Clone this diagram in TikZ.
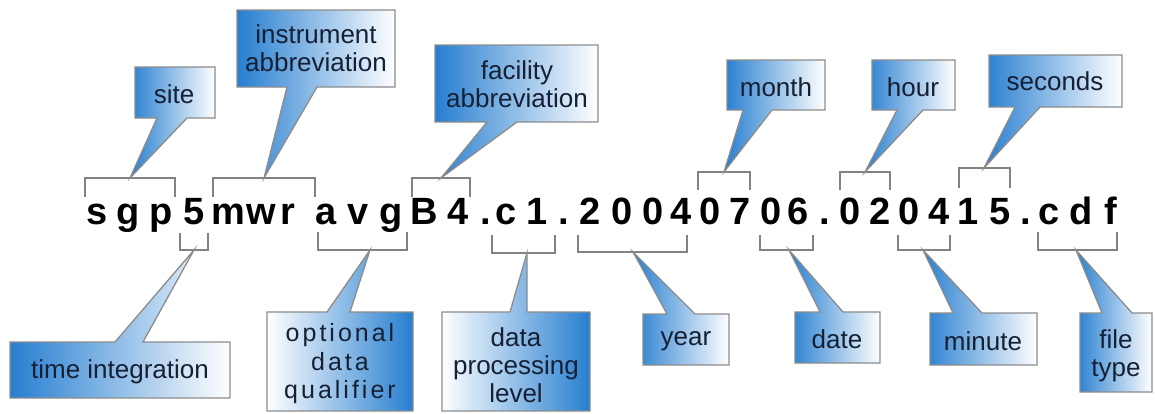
\documentclass[tikz,border=0pt]{standalone}
\usepackage{fontspec}
\newfontfamily\labfont{Liberation Sans}
\newfontfamily\codefont{Liberation Sans}
\definecolor{cblue}{RGB}{38,126,208}
\definecolor{boxgray}{RGB}{140,140,140}
\definecolor{brkgray}{RGB}{130,130,130}
\definecolor{labtext}{RGB}{22,32,52}
\tikzset{
  cbox/.style={draw=boxgray, line width=1.3pt, line join=miter},
  shadeL/.style={cbox, left color=cblue, right color=white},
  shadeR/.style={cbox, left color=white, right color=cblue},
  brk/.style={draw=brkgray, line width=1.6pt},
  lab/.style={font=\labfont\fontsize{26}{28}\selectfont, text=labtext, align=center, inner sep=0pt},
  mainchar/.style={font=\codefont\bfseries\fontsize{38}{38}\selectfont, inner sep=0pt, anchor=base}
}
\begin{document}
\begin{tikzpicture}[x=1pt,y=-1pt]
\useasboundingbox (0,0) rectangle (1155,413);
% main file name
\foreach \ch/\xx [count=\i] in {s/97,g/128,p/161,5/194,m/228,w/261,r/288,a/326,v/358,g/391,B/424,4/458,./486,c/506,1/537,./564,2/590,0/622,0/653,4/681,0/710,7/740,0/771,6/798,./825,0/850,2/880,0/909,4/939,1/968,5/1000,./1026,c/1049,d/1081,f/1111}
  {\node[mainchar] (ch\i) at (\xx,224) {\ch};}
% top brackets
\coordinate (tSite) at (130,178);
\coordinate (tInst) at (264,178);
\coordinate (tFac) at (441,178);
\coordinate (tMon) at (724,172);
\coordinate (tHour) at (865,172);
\coordinate (tSec) at (984,168);
\draw[brk] (85,197) |- (tSite) -| (175,197);
\draw[brk] (213,197) |- (tInst) -| (315,197);
\draw[brk] (412,197) |- (tFac) -| (470,197);
\draw[brk] (698,190) |- (tMon) -| (750,190);
\draw[brk] (840,190) |- (tHour) -| (890,190);
\draw[brk] (959,188) |- (tSec) -| (1010,188);
% bottom brackets
\coordinate (bTime) at (194,250);
\coordinate (bOpt) at (370,250);
\coordinate (bData) at (527,253);
\coordinate (bYear) at (633,252);
\coordinate (bDate) at (789,250);
\coordinate (bMin) at (923,250);
\coordinate (bFile) at (1076,250);
\draw[brk] (180,233) |- (bTime) -| (208,233);
\draw[brk] (318,232) |- (bOpt) -| (407,232);
\draw[brk] (492,235) |- (bData) -| (555,235);
\draw[brk] (578,235) |- (bYear) -| (687,235);
\draw[brk] (760,235) |- (bDate) -| (813,235);
\draw[brk] (898,235) |- (bMin) -| (950,235);
\draw[brk] (1038,232) |- (bFile) -| (1117,232);
% top callouts
\path[shadeL] (135,67) -- (215,67) -- (215,118) -- (187,118) -- (tSite) -- (157,118) -- (135,118) -- cycle;
\path[shadeL] (237,10) -- (395,10) -- (395,87) -- (317,87) -- (tInst) -- (287,87) -- (237,87) -- cycle;
\path[shadeL] (435,45) -- (598,45) -- (598,122) -- (517,122) -- (tFac) -- (487,122) -- (435,122) -- cycle;
\path[shadeL] (727,60) -- (825,60) -- (825,110) -- (772,110) -- (tMon) -- (743,110) -- (727,110) -- cycle;
\path[shadeL] (872,60) -- (955,60) -- (955,110) -- (923,110) -- (tHour) -- (897,110) -- (872,110) -- cycle;
\path[shadeL] (989,55) -- (1122,55) -- (1122,107) -- (1040,107) -- (tSec) -- (1015,107) -- (989,107) -- cycle;
% bottom callouts
\path[shadeL] (10,342) -- (115,342) -- (bTime) -- (143,342) -- (230,342) -- (230,398) -- (10,398) -- cycle;
\path[shadeR] (267,312) -- (327,312) -- (bOpt) -- (350,312) -- (413,312) -- (413,411) -- (267,411) -- cycle;
\path[shadeR] (442,312) -- (510,312) -- (bData) -- (527,312) -- (590,312) -- (590,411) -- (442,411) -- cycle;
\path[shadeL] (643,314) -- (667,314) -- (bYear) -- (695,314) -- (729,314) -- (729,365) -- (643,365) -- cycle;
\path[shadeL] (795,312) -- (820,312) -- (bDate) -- (843,312) -- (880,312) -- (880,363) -- (795,363) -- cycle;
\path[shadeL] (930,313) -- (953,313) -- (bMin) -- (982,313) -- (1037,313) -- (1037,365) -- (930,365) -- cycle;
\path[shadeL] (1080,313) -- (1102,313) -- (bFile) -- (1132,313) -- (1152,313) -- (1152,392) -- (1080,392) -- cycle;
% labels
\node[lab] (lSite) at (174,94) {site};
\node[lab] (lInst) at (316,48) {instrument\\abbreviation};
\node[lab] (lFac) at (517,84) {facility\\abbreviation};
\node[lab] (lMon) at (776,87) {month};
\node[lab] (lHour) at (913,87) {hour};
\node[lab] (lSec) at (1055,81) {seconds};
\node[lab] (lTime) at (120,372) {time integration};
\node[lab, font=\labfont\addfontfeature{LetterSpace=12}\fontsize{25}{28.5}\selectfont] (lOpt) at (340,364) {optional\\data\\qualifier};
\node[lab] (lData) at (516,365) {data\\processing\\level};
\node[lab] (lYear) at (686,341) {year};
\node[lab] (lDate) at (837,339) {date};
\node[lab] (lMin) at (983,341) {minute};
\node[lab] (lFile) at (1116,356) {file\\type};
\end{tikzpicture}
\end{document}
